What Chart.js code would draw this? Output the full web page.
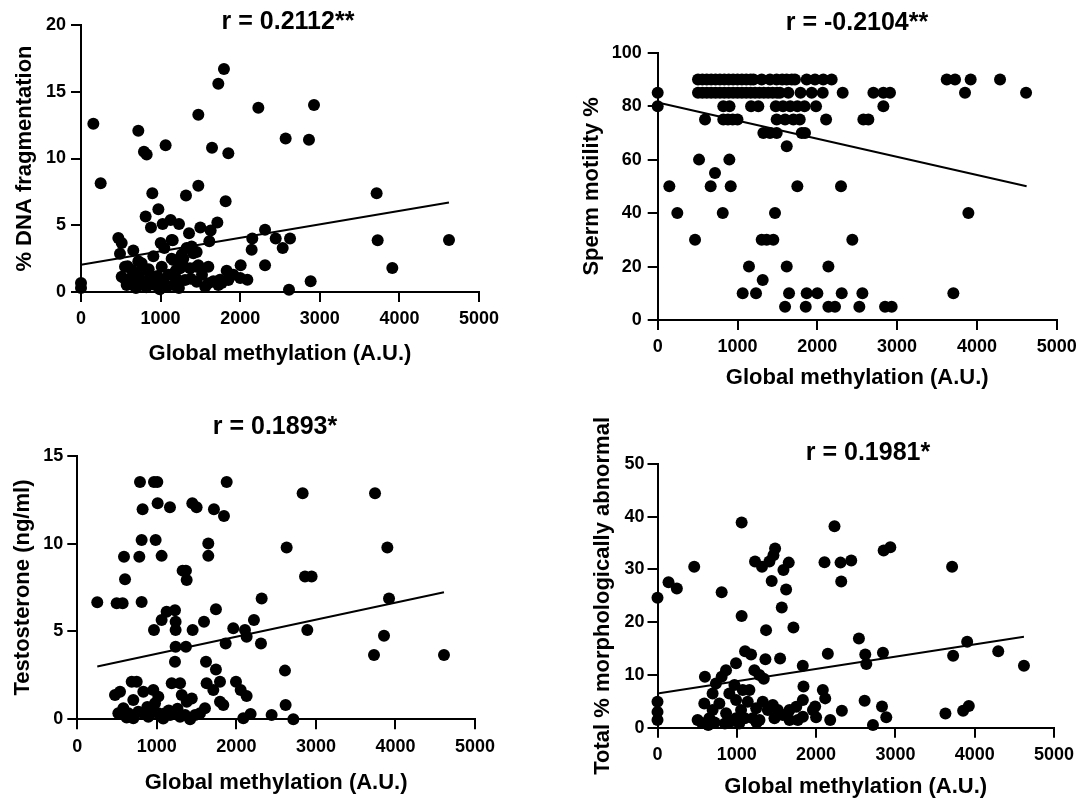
<!DOCTYPE html>
<html>
<head>
<meta charset="utf-8">
<script src="https://cdn.jsdelivr.net/npm/chart.js@4/dist/chart.umd.min.js"></script>
<style>
html, body { margin:0; padding:0; background:#fff; overflow:hidden; width:1083px; height:798px; }
canvas { position:absolute; }
</style>
</head>
<body>
<canvas id="c1" width="576" height="372" style="left:0px;top:0px;"></canvas>
<canvas id="c2" width="594" height="400" style="left:560px;top:0px;"></canvas>
<canvas id="c3" width="550" height="398" style="left:0px;top:400px;"></canvas>
<canvas id="c4" width="576" height="393" style="left:580px;top:405px;"></canvas>
<script>
// ---------- Data ----------
const xTicks = [0, 1000, 2000, 3000, 4000, 5000];
const xAxisTitle = "Global methylation (A.U.)";

// Panel 1: % DNA fragmentation
const p1Title = "r = 0.2112**";
const p1YTitle = "% DNA fragmentation";
const p1X = [0,0,155,247,720,791,825,1063,896,1319,1474,1474,1725,1796,1646,1851,1817,2228,2571,2864,2927,3714,3727,3911,4623,2885,2613,2626,2534,2446,2312,2312,2152,2144,2006,2090,812,879,972,1026,1126,1231,1499,1357,1629,1713,1612,1152,1001,1047,469,511,490,657,586,909,1160,1265,1327,1390,1453,1453,1600,1830,1914,2000,1746,1662,1767,553,511,574,637,700,657,762,783,867,930,1014,1034,1139,1285,1139,1411,1244,1369,1474,1307,1453,1160,1600,1851,1725,1076,620,690,740,820,850,960,990,1100,1200,1230,1380,1520,1560,1280,1190,720,560,900];
const p1Y = [0.67,0.3,12.6,8.15,12.07,10.5,10.3,11.0,7.4,7.23,7.95,13.27,15.6,16.7,10.8,10.4,6.8,13.8,11.5,11.4,14.0,7.4,3.87,1.8,3.9,0.8,0.17,4.0,3.3,4.0,4.66,2.0,4.0,3.17,2.0,0.92,5.66,4.84,6.2,5.1,5.4,5.1,4.84,4.4,4.6,5.2,3.8,3.87,3.67,3.3,4.04,3.67,2.87,3.1,1.92,2.67,2.4,2.8,3.3,3.4,3.0,1.9,1.9,1.6,1.3,1.05,0.92,0.8,0.67,1.9,1.15,0.52,1.65,1.15,0.52,2.15,0.77,1.27,0.52,1.9,0.9,3.9,2.5,2.5,2.9,1.78,1.78,2.0,0.9,0.77,0.52,0.65,0.9,0.52,0.4,1.0,0.3,1.5,0.35,1.7,1.2,0.2,1.3,1.0,0.3,1.0,1.3,0.4,2.0,1.6,2.3,0.9,0.8];
const p1LineX = [0, 4623];
const p1LineY = [2.04, 6.7];

// Panel 2: Sperm motility %
const p2Title = "r = -0.2104**";
const p2YTitle = "Sperm motility %";
const p2X = [
  505,560,615,670,725,780,835,890,945,1000,1055,1110,1165,1200,1303,1407,1490,1560,1616,1680,1720,1867,1971,2075,2180,3622,3726,3922,4290,
  0,505,560,615,670,725,780,835,890,945,1000,1055,1110,1165,1220,1275,1330,1385,1440,1495,1533,1637,1790,1930,2068,2318,2703,2828,2911,3851,4616,
  0,822,900,1170,1261,1480,1570,1660,1750,1840,1984,2828,
  593,822,880,940,1000,1491,1596,1700,1780,2110,2577,2640,
  1324,1407,1491,1805,1846,
  1617,
  518,898,
  718,
  146,664,915,1750,2297,
  246,815,1470,3893,
  468,1303,1366,1449,2439,
  1144,1617,2139,
  1316,
  1065,1232,1646,1867,2001,2306,2565,3705,
  1596,1855,2139,2222,2527,2849,2932
];
const p2Y = [
  90,90,90,90,90,90,90,90,90,90,90,90,90,90,90,90,90,90,90,90,90,90,90,90,90,90,90,90,90,
  85,85,85,85,85,85,85,85,85,85,85,85,85,85,85,85,85,85,85,85,85,85,85,85,85,85,85,85,85,85,85,
  80,80,80,80,80,80,80,80,80,80,80,80,
  75,75,75,75,75,75,75,75,75,75,75,75,
  70,70,70,70,70,
  65,
  60,60,
  55,
  50,50,50,50,50,
  40,40,40,40,
  30,30,30,30,30,
  20,20,20,
  15,
  10,10,10,10,10,10,10,10,
  5,5,5,5,5,5,5
];
const p2LineX = [0, 4623];
const p2LineY = [81.4, 50.0];

// Panel 3: Testosterone (ng/ml)
const p3Title = "r = 0.1893*";
const p3YTitle = "Testosterone (ng/ml)";
const p3X = [251,495,570,587,600,780,788,821,809,809,964,1006,1010,985,1060,1165,964,1060,1123,1228,1236,1236,1236,1228,1324,1366,1375,1366,1446,1500,1450,1593,1718,1844,1647,1647,1743,1878,1865,1961,2108,2129,2221,2309,2318,2632,2833,2863,2946,2892,2611,2619,2716,2443,3743,3898,3919,3856,3730,4610,1618,1743,1794,1626,1995,2054,2129,1710,1794,1836,1605,2179,2087,474,537,684,747,704,830,956,1019,977,1187,1292,1313,1376,1439,516,579,642,704,767,830,893,956,1019,1103,1166,1229,1292,1355,1418,1481,1543,620,880,1080,1260,1150];
const p3Y = [6.66,6.6,6.6,9.25,7.97,9.25,13.5,11.95,10.2,6.68,13.5,13.5,12.3,10.2,9.3,12.06,5.08,5.65,6.12,6.2,5.55,5.08,4.13,3.28,8.46,8.46,7.93,4.13,12.3,12.06,5.08,5.55,11.95,11.57,10.0,9.3,6.26,13.5,4.32,5.18,5.08,4.7,5.65,4.32,6.88,9.78,12.86,8.12,8.12,5.08,2.77,0.82,0,0.25,12.86,9.78,6.88,4.76,3.66,3.66,3.28,2.84,2.14,2.05,2.14,1.67,1.33,1.67,1.0,0.82,0.63,0.3,0.06,1.38,1.57,2.14,2.14,1.1,1.57,1.67,1.29,0.91,2.05,2.05,1.38,1.0,1.19,0.34,0.63,0.34,0.06,0.43,0.34,0.15,0.43,0.34,0.34,0.24,0.34,0.15,0.24,0.0,0.24,0.34,0.1,0.7,0.05,0.6,0.5];
const p3LineX = [251, 4610];
const p3LineY = [3.0, 7.23];

// Panel 4: Total % morphologically abnormal
const p4Title = "r = 0.1981*";
const p4YTitle = "Total % morphologically abnormal";
const p4X = [0,0,0,0,139,244,463,809,1061,1061,1230,1318,1411,1483,1462,1440,1588,1655,1622,1567,1714,1369,1104,1180,1361,1546,1832,2148,2106,2232,2308,2443,2317,2540,2620,2633,2843,2852,2936,3715,3728,3905,4297,4621,3631,3854,3926,2612,2831,2885,2717,2325,2178,2085,2115,1988,2000,1841,990,864,598,737,809,506,590,695,654,695,780,865,906,970,991,991,1075,1159,1138,1054,1201,1244,1327,1391,1454,1517,1580,1665,1750,1833,1833,1960,1286,1665,1770,1475,1222,1285,1340,560,640,720,850,930,1030,1100,1250];
const p4Y = [24.65,4.9,3.0,1.45,27.6,26.4,30.5,25.7,38.9,21.2,31.5,30.5,31.5,34.0,32.7,27.8,29.9,31.3,26.2,22.8,19.0,18.5,14.5,13.9,13.0,13.1,11.75,14.0,31.35,38.2,31.3,31.7,27.7,16.9,13.9,12.07,14.2,33.6,34.2,30.5,13.65,16.3,14.5,11.75,2.7,3.2,4.1,5.1,4.0,1.96,0.5,3.2,1.45,7.14,5.56,4.0,1.96,7.8,12.2,10.9,9.67,8.4,9.67,1.46,4.6,6.5,1.78,3.36,4.6,2.73,6.5,8.1,5.25,1.78,7.15,7.15,4.93,3.36,1.78,3.68,4.93,3.36,4.3,3.36,2.4,3.36,3.98,5.25,2.09,3.36,1.46,1.46,1.46,1.78,10.9,10.0,9.3,0.9,0.5,1.0,0.8,1.2,0.8,1.8,1.0];
const p4LineX = [0, 4621];
const p4LineY = [6.5, 17.25];

// ---------- Rendering ----------
const FAMILY = "'Liberation Sans', Arial, Helvetica, sans-serif";
function pairs(xs, ys) { return xs.map((x, i) => ({ x: x, y: ys[i] })); }

function makePanel(id, xs, ys, lx, ly, title, yTitle, yMax, yStep, L) {
  new Chart(document.getElementById(id), {
    type: 'scatter',
    data: {
      datasets: [
        { type: 'line', data: pairs(lx, ly), borderColor: '#000', borderWidth: 2,
          pointRadius: 0, fill: false, clip: false, order: 1 },
        { data: pairs(xs, ys), backgroundColor: '#000', borderColor: '#000', borderWidth: 0,
          pointRadius: 6, pointHoverRadius: 6, clip: false, order: 0 }
      ]
    },
    options: {
      responsive: false, animation: false, devicePixelRatio: 1,
      layout: { padding: 0 },
      plugins: {
        legend: { display: false },
        tooltip: { enabled: false },
        title: { display: true, text: title, color: '#000', fullSize: true,
          font: { family: FAMILY, size: 25, weight: 'bold' },
          padding: { top: L.tPt, bottom: L.tPb } }
      },
      scales: {
        x: {
          type: 'linear', min: 0, max: 5000,
          afterBuildTicks: s => { s.ticks = xTicks.map(v => ({ value: v })); },
          ticks: { color: '#000', font: { family: FAMILY, size: 18, weight: 'bold' },
            padding: L.xTickPad, maxRotation: 0, autoSkip: false,
            callback: v => String(v) },
          grid: { display: true, drawOnChartArea: false, drawTicks: true, tickLength: 10,
            color: '#000', lineWidth: 2 },
          border: { display: true, color: '#000', width: 2 },
          title: { display: true, text: xAxisTitle, color: '#000',
            font: { family: FAMILY, size: 22, weight: 'bold' },
            padding: { top: 0, bottom: L.xTitlePb } },
          afterFit: s => { s.height = L.xH; }
        },
        y: {
          type: 'linear', min: 0, max: yMax,
          ticks: { stepSize: yStep, color: '#000', font: { family: FAMILY, size: 18, weight: 'bold' },
            padding: L.yTickPad, callback: v => String(v) },
          grid: { display: true, drawOnChartArea: false, drawTicks: true, tickLength: 10,
            color: '#000', lineWidth: 2 },
          border: { display: true, color: '#000', width: 2 },
          title: { display: true, text: yTitle, color: '#000',
            font: { family: FAMILY, size: 22, weight: 'bold' },
            padding: { top: L.yTitlePt, bottom: 0 } },
          afterFit: s => { s.width = L.yW; }
        },
        // empty spacer on the right so the full-width title centres where the reference has it
        spacer: {
          type: 'linear', position: 'right', display: true,
          ticks: { display: false }, grid: { display: false }, border: { display: false },
          afterFit: s => { s.width = L.rightW; }
        }
      }
    }
  });
}

makePanel('c1', p1X, p1Y, p1LineX, p1LineY, p1Title, p1YTitle, 20, 5,
  { rightW: 97, yW: 81, xH: 80, tPt: 7, tPb: -12, yTitlePt: 11.8, yTickPad: 5, xTickPad: 6.2, xTitlePb: 4.8 });
makePanel('c2', p2X, p2Y, p2LineX, p2LineY, p2Title, p2YTitle, 100, 20,
  { rightW: 97.3, yW: 97.7, xH: 80, tPt: 8, tPb: 14.7, yTitlePt: 18.5, yTickPad: 6, xTickPad: 5.9, xTitlePb: 8.8 });
makePanel('c3', p3X, p3Y, p3LineX, p3LineY, p3Title, p3YTitle, 15, 5,
  { rightW: 75, yW: 77.3, xH: 78.7, tPt: 11.7, tPb: 14, yTitlePt: 10.1, yTickPad: 4, xTickPad: 6.6, xTitlePb: 1.8 });
makePanel('c4', p4X, p4Y, p4LineX, p4LineY, p4Title, p4YTitle, 50, 10,
  { rightW: 102, yW: 77.5, xH: 70.3, tPt: 33.3, tPb: -4.3, yTitlePt: 9.8, yTickPad: 3, xTickPad: 6.5, xTitlePb: -1.9 });
</script>
</body>
</html>
